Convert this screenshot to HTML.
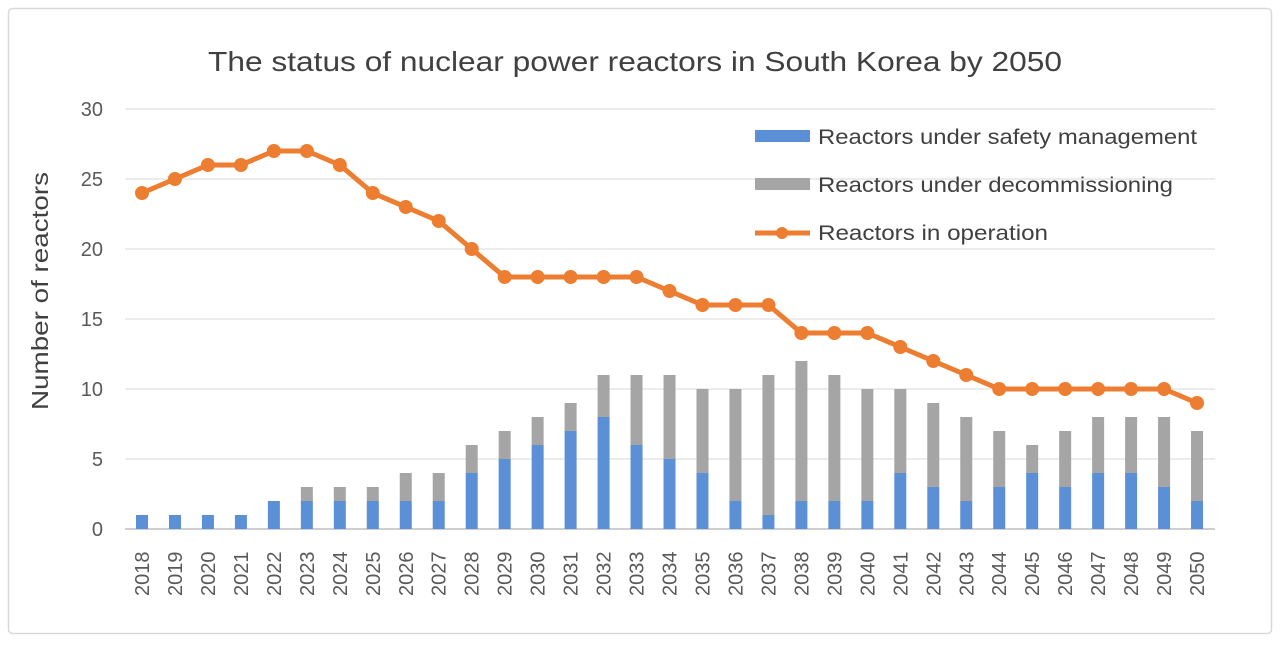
<!DOCTYPE html>
<html><head><meta charset="utf-8"><style>body{margin:0;background:#fff}svg{display:block}</style></head>
<body>
<svg width="1280" height="648" xmlns="http://www.w3.org/2000/svg" font-family="Liberation Sans, sans-serif">
<rect x="0" y="0" width="1280" height="648" fill="#fff"/>
<rect x="8.5" y="8.5" width="1263" height="625" fill="#fff" stroke="#d9d9d9" stroke-width="1.5" rx="4"/>
<text x="208" y="71" textLength="854" lengthAdjust="spacingAndGlyphs" font-size="28" fill="#404040">The status of nuclear power reactors in South Korea by 2050</text>
<text transform="translate(48,291) rotate(-90)" text-anchor="middle" textLength="238" lengthAdjust="spacingAndGlyphs" font-size="23" fill="#404040">Number of reactors</text>
<g id="grid"></g>
<g id="bars"></g>
<g id="line"></g>
<g id="labels"></g>
<g font-size="21" fill="#404040">
<rect x="755" y="130" width="55" height="12" fill="#5b8fd6"/>
<text x="818" y="144" textLength="379" lengthAdjust="spacingAndGlyphs">Reactors under safety management</text>
<rect x="755" y="178" width="55" height="12" fill="#a5a5a5"/>
<text x="818" y="192" textLength="355" lengthAdjust="spacingAndGlyphs">Reactors under decommissioning</text>
<line x1="755" y1="233" x2="810" y2="233" stroke="#ed7d31" stroke-width="5"/>
<circle cx="782" cy="233" r="6" fill="#ed7d31"/>
<text x="818" y="240" textLength="230" lengthAdjust="spacingAndGlyphs">Reactors in operation</text>
</g>
</svg>
<script>
const ns="http://www.w3.org/2000/svg";
const y0=529,py=14.0,x0=142,dx=32.97;
const Y=v=>y0-v*py, X=i=>x0+i*dx;
function el(t,a,p,txt){const e=document.createElementNS(ns,t);for(const k in a)e.setAttribute(k,a[k]);if(txt!==undefined)e.textContent=txt;document.getElementById(p).appendChild(e);return e;}
for(let v=0;v<=30;v+=5){
 el('line',{x1:125,x2:1215,y1:Y(v),y2:Y(v),stroke:v==0?'#bfbfbf':'#d9d9d9','stroke-width':v==0?1.5:1},'grid');
 el('text',{x:103,y:Y(v)+7,'text-anchor':'end','font-size':20,fill:'#595959'},'labels',String(v));
}
const s=[1,1,1,1,2,2,2,2,2,2,4,5,6,7,8,6,5,4,2,1,2,2,2,4,3,2,3,4,3,4,4,3,2];
const t=[1,1,1,1,2,3,3,3,4,4,6,7,8,9,11,11,11,10,10,11,12,11,10,10,9,8,7,6,7,8,8,8,7];
const o=[24,25,26,26,27,27,26,24,23,22,20,18,18,18,18,18,17,16,16,16,14,14,14,13,12,11,10,10,10,10,10,10,9];
let pts=[];
for(let i=0;i<33;i++){
 const x=X(i);
 el('rect',{x:x-6,y:Y(s[i]),width:12,height:s[i]*py,fill:'#5b8fd6'},'bars');
 if(t[i]>s[i])el('rect',{x:x-6,y:Y(t[i]),width:12,height:(t[i]-s[i])*py,fill:'#a5a5a5'},'bars');
 pts.push(x+','+Y(o[i]));
 el('text',{transform:`translate(${x+7},596) rotate(-90)`,'font-size':20,fill:'#595959'},'labels',String(2018+i));
}
el('polyline',{points:pts.join(' '),fill:'none',stroke:'#ed7d31','stroke-width':5,'stroke-linejoin':'round'},'line');
for(let i=0;i<33;i++)el('circle',{cx:X(i),cy:Y(o[i]),r:7,fill:'#ed7d31'},'line');
</script>
</body></html>
